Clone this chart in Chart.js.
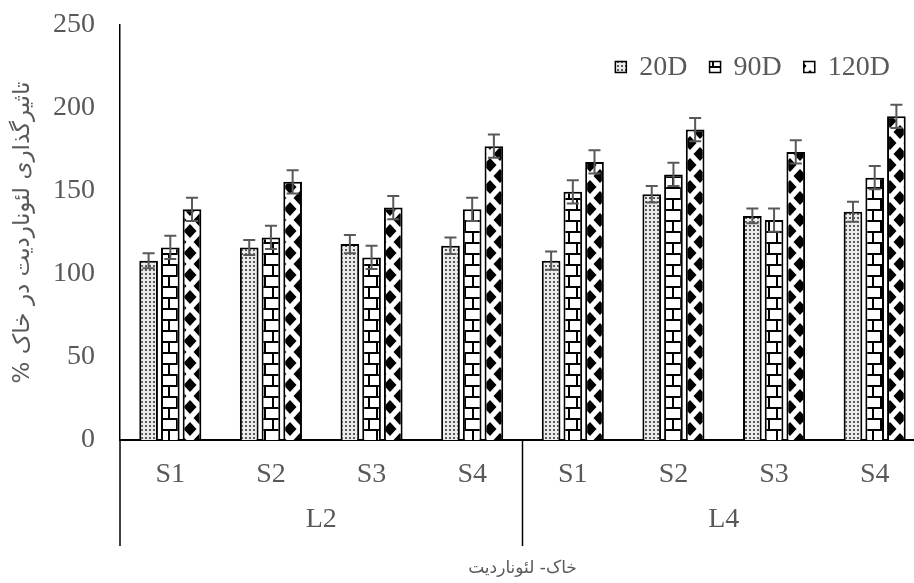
<!DOCTYPE html>
<html>
<head>
<meta charset="utf-8">
<script src="https://cdn.jsdelivr.net/npm/chart.js@4.4.0/dist/chart.umd.min.js"></script>
<style>
  html, body { margin: 0; padding: 0; background: #fff; overflow: hidden; }
  #wrap { width: 930px; height: 583px; }
</style>
</head>
<body>
<div id="wrap"><canvas id="grafica" width="930" height="583"></canvas></div>
<script>
// categories
const subLabels = ['S1', 'S2', 'S3', 'S4', 'S1', 'S2', 'S3', 'S4'];
const groupLabels = ['L2', 'L4'];
const seriesNames = ['20D', '90D', '120D'];

// values
const val20 = [108, 116, 118, 117, 108, 148, 135, 137.5];
const val90 = [116, 122, 110, 139, 149.5, 160, 132.5, 158];
const val120 = [139, 155.5, 140, 177, 167.5, 187, 173.5, 195];

// error bars
const err20 = [4.5, 4.5, 5.5, 5, 5.5, 5, 4.5, 6];
const err90 = [7, 7, 7, 7, 7, 7, 7, 7];
const err120 = [7, 7, 7, 7, 7, 7, 7, 7];

const yMin = 0;
const yMax = 250;
const yStep = 50;

const yTitle = '% تاثیرگذاری لئوناردیت در خاک';
const xTitle = 'خاک- لئوناردیت';

const textGray = '#595959';
const serif = "'Liberation Serif', 'Times New Roman', serif";
const arabic = "'DejaVu Sans', sans-serif";

function makePattern(w, h, draw) {
  const c = document.createElement('canvas');
  c.width = w;
  c.height = h;
  const g = c.getContext('2d');
  g.fillStyle = '#fff';
  g.fillRect(0, 0, w, h);
  draw(g);
  return document.createElement('canvas').getContext('2d').createPattern(c, 'repeat');
}

// dotted fill
const dotFill = makePattern(4, 4, g => {
  g.fillStyle = '#ececec';
  g.fillRect(0, 0, 4, 4);
  g.fillStyle = '#5a5a5a';
  g.fillRect(1, 1, 2, 2);
});

// brick fill
const brickFill = makePattern(16, 22, g => {
  g.fillStyle = '#000';
  g.fillRect(0, 0, 16, 2);
  g.fillRect(0, 11, 16, 2);
  g.fillRect(0, 2, 2, 9);
  g.fillRect(8, 13, 2, 9);
});

// diamond fill
const diamondFill = makePattern(20, 22, g => {
  g.fillStyle = '#000';
  const diamond = (cx, cy) => {
    g.beginPath();
    g.moveTo(cx, cy - 7);
    g.lineTo(cx + 6.5, cy);
    g.lineTo(cx, cy + 7);
    g.lineTo(cx - 6.5, cy);
    g.closePath();
    g.fill();
  };
  diamond(10, 11);
  diamond(0, 0);
  diamond(20, 0);
  diamond(0, 22);
  diamond(20, 22);
});

const fills = [dotFill, brickFill, diamondFill];
const errores = [err20, err90, err120];

const errorBars = {
  id: 'errorBars',
  afterDatasetsDraw(chart) {
    const ctx = chart.ctx;
    const y = chart.scales.y;
    ctx.save();
    ctx.strokeStyle = '#595959';
    ctx.lineWidth = 2;
    chart.data.datasets.forEach((ds, d) => {
      const meta = chart.getDatasetMeta(d);
      meta.data.forEach((bar, i) => {
        const v = ds.data[i];
        const e = errores[d][i];
        const top = y.getPixelForValue(v + e);
        const bot = y.getPixelForValue(v - e);
        ctx.beginPath();
        ctx.moveTo(bar.x, top);
        ctx.lineTo(bar.x, bot);
        ctx.moveTo(bar.x - 6, top);
        ctx.lineTo(bar.x + 6, top);
        ctx.moveTo(bar.x - 6, bot);
        ctx.lineTo(bar.x + 6, bot);
        ctx.stroke();
      });
    });
    ctx.restore();
  }
};

// vertical lines that separate the L groups under the axis
const groupLines = {
  id: 'groupLines',
  afterDraw(chart) {
    const x = chart.scales.x;
    const x2 = chart.scales.x2;
    const ctx = chart.ctx;
    const mid = (x.getPixelForValue(3) + x.getPixelForValue(4)) / 2;
    const edges = [x.left, mid, x.right];
    ctx.save();
    ctx.strokeStyle = '#000';
    ctx.lineWidth = 1.5;
    edges.forEach(px => {
      ctx.beginPath();
      ctx.moveTo(px, x.top);
      ctx.lineTo(px, x2.top + 46);
      ctx.stroke();
    });
    ctx.restore();
  }
};

// legend inside the plot, top right
const insideLegend = {
  id: 'insideLegend',
  afterDraw(chart) {
    const ctx = chart.ctx;
    const area = chart.chartArea;
    const box = 11;
    const gapText = 13;
    const gapItem = 22;
    const cy = area.top + 42;
    ctx.save();
    ctx.font = '28px ' + serif;
    ctx.textBaseline = 'middle';
    ctx.textAlign = 'left';
    let x = area.right - 35;
    for (let d = seriesNames.length - 1; d >= 0; d--) {
      const w = ctx.measureText(seriesNames[d]).width;
      x -= w;
      ctx.fillStyle = textGray;
      ctx.fillText(seriesNames[d], x, cy + 1);
      x -= gapText + box;
      ctx.fillStyle = fills[d];
      ctx.fillRect(x, cy - box / 2, box, box);
      ctx.strokeStyle = '#000';
      ctx.lineWidth = 1.5;
      ctx.strokeRect(x, cy - box / 2, box, box);
      x -= gapItem;
    }
    ctx.restore();
  }
};

const ctx = document.getElementById('grafica').getContext('2d');
const chart = new Chart(ctx, {
  type: 'bar',
  data: {
    labels: subLabels,
    datasets: [
      { label: seriesNames[0], data: val20, backgroundColor: dotFill },
      { label: seriesNames[1], data: val90, backgroundColor: brickFill },
      { label: seriesNames[2], data: val120, backgroundColor: diamondFill }
    ]
  },
  options: {
    responsive: false,
    animation: false,
    devicePixelRatio: 1,
    layout: { padding: { top: 25, right: 5, bottom: 0, left: 0 } },
    datasets: {
      bar: {
        borderColor: '#000',
        borderWidth: 2,
        categoryPercentage: 0.647,
        barPercentage: 0.86
      }
    },
    plugins: {
      tooltip: { enabled: false },
      legend: { display: false }
    },
    scales: {
      x: {
        position: 'bottom',
        grid: { display: false, drawTicks: false },
        border: { display: true, color: '#000', width: 2 },
        ticks: { color: textGray, font: { family: serif, size: 28 }, padding: 18, maxRotation: 0, autoSkip: false },
        afterFit: s => { s.height = 60; }
      },
      x2: {
        type: 'category',
        labels: groupLabels,
        position: 'bottom',
        offset: true,
        grid: { display: false, drawTicks: false },
        border: { display: false },
        ticks: { color: textGray, font: { family: serif, size: 28 }, padding: 3, maxRotation: 0 },
        title: {
          display: true,
          text: xTitle,
          color: textGray,
          font: { family: arabic, size: 17 },
          padding: { top: 0, bottom: 4 }
        },
        afterFit: s => { s.height = 83; }
      },
      y: {
        min: yMin,
        max: yMax,
        grid: { display: false, drawTicks: false },
        border: { display: true, color: '#000', width: 1.5 },
        ticks: { stepSize: yStep, color: textGray, font: { family: serif, size: 28 }, padding: 25 },
        title: {
          display: true,
          text: yTitle,
          color: textGray,
          font: { family: arabic, size: 23 },
          padding: { top: 9, bottom: 0 }
        },
        afterFit: s => {
          s.width = 120;
          s.paddingTop = 0;
          s.paddingBottom = 0;
        }
      }
    }
  },
  plugins: [errorBars, groupLines, insideLegend]
});
</script>
</body>
</html>
